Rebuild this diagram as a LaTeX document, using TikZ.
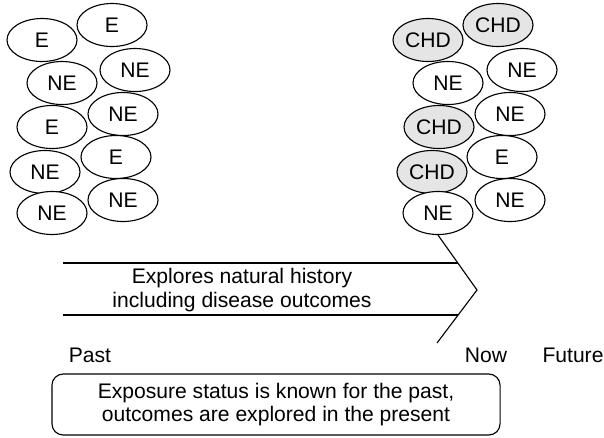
\documentclass[tikz,border=0pt]{standalone}
\usepackage{fontspec}
\setmainfont{Liberation Sans}
\usepackage{tikz}
\usetikzlibrary{shapes.geometric,positioning,calc}

\begin{document}
\begin{tikzpicture}[
        x=0.025cm, y=-0.025cm,
        subj/.style={ellipse,draw=black,line width=0.8pt,fill=white,
                     minimum width=1.75cm,minimum height=1.075cm,inner sep=0pt},
        chd/.style={subj,fill=black!10},
        font=\fontsize{15}{16.5}\selectfont
      ]
      \useasboundingbox (0,0) rectangle (604,437);
      % before: exposure groups
      \node[subj] (L1)  at (42,40)   {E};
      \node[subj] (L2)  at (112,25)  {E};
      \node[subj] (L3)  at (62,83)   {NE};
      \node[subj] (L4)  at (135,70)  {NE};
      \node[subj] (L5)  at (52,127)  {E};
      \node[subj] (L6)  at (123,114) {NE};
      \node[subj] (L7)  at (45,172)  {NE};
      \node[subj] (L8)  at (116,157) {E};
      \node[subj] (L9)  at (52,213)  {NE};
      \node[subj] (L10) at (123,200) {NE};
      % now: outcomes
      \node[chd]  (R1)  at (428,40)  {CHD};
      \node[chd]  (R2)  at (498,25)  {CHD};
      \node[subj] (R3)  at (448,83)  {NE};
      \node[subj] (R4)  at (522,70)  {NE};
      \node[chd]  (R5)  at (439,127) {CHD};
      \node[subj] (R6)  at (510,114) {NE};
      \node[chd]  (R7)  at (432,172) {CHD};
      \node[subj] (R8)  at (502,157) {E};
      \node[subj] (R9)  at (438,213) {NE};
      \node[subj] (R10) at (510,200) {NE};

      \coordinate (TopL) at (63,263);
      \coordinate (TopR) at (458,263);
      \coordinate (BotL) at (63,315);
      \coordinate (BotR) at (458,315);
      \coordinate (Tip)  at (477,290);
      \coordinate (Tail) at (437,343);

      \draw[line width=0.8pt] (TopL) -- (TopR);
      \draw[line width=0.8pt] (BotL) -- (BotR);
      \draw[line width=0.8pt] (R9.south) -- (Tip) -- (Tail);

      \node[align=center] (Hist) at (242,290)
        {Explores natural history\\including disease outcomes};
      \node (Past)   at (90,355)  {Past};
      \node (Now)    at (486,355) {Now};
      \node (Future) at (573,355) {Future};

      \node[draw,rounded corners=8pt,line width=0.8pt,align=center,
            minimum width=11.2cm,minimum height=1.525cm] (Note) at (276,404.5)
        {Exposure status is known for the past,\\outcomes are explored in the present};
    \end{tikzpicture}
\end{document}
